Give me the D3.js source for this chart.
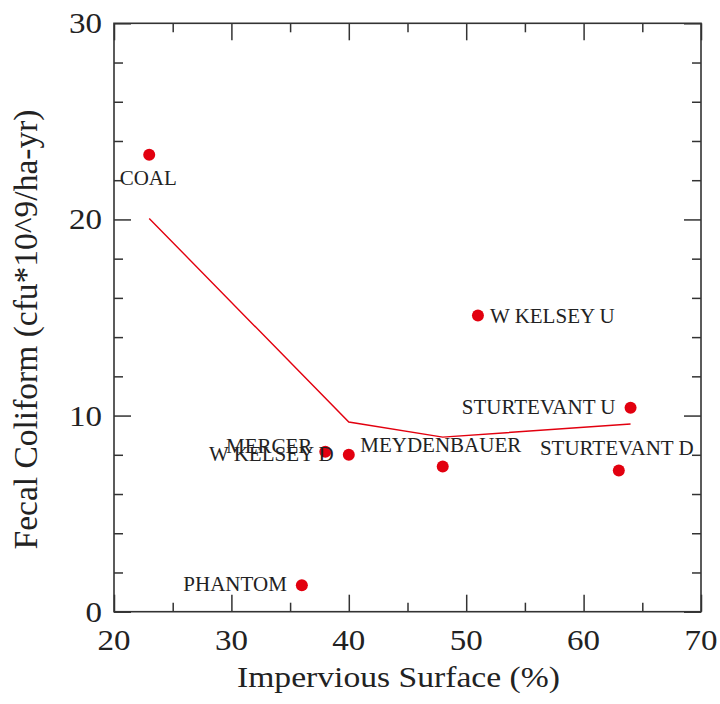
<!DOCTYPE html>
<html>
<head>
<meta charset="utf-8">
<script src="https://cdn.jsdelivr.net/npm/d3@7"></script>
<style>
  html, body { margin: 0; padding: 0; background: #fff; }
  svg { display: block; }
</style>
</head>
<body>
<svg id="chart" width="720" height="704"></svg>
<script>
// ---- data ----
const sites = ["COAL", "W KELSEY U", "STURTEVANT U", "STURTEVANT D", "MEYDENBAUER", "W KELSEY D", "MERCER", "PHANTOM"];
const impervious = [23, 51, 64, 63, 48, 40, 38, 36];
const fecalColiform = [23.3, 15.1, 10.4, 7.2, 7.4, 8.0, 8.15, 1.35];
const labelSide = ["below", "right", "left", "above", "above", "left", "leftHigh", "left"];

const trendX = [23, 40, 48, 64];
const trendY = [20.05, 9.67, 8.9, 9.57];

const xTicks = [20, 30, 40, 50, 60, 70];
const yTicks = [0, 10, 20, 30];

(function () {
// ---- layout ----
const svg = d3.select("#chart");
const pLeft = 114, pRight = 701, pTop = 23.3, pBottom = 611.7;
const x = d3.scaleLinear().domain([20, 70]).range([pLeft, pRight]);
const y = d3.scaleLinear().domain([0, 30]).range([pBottom, pTop]);

const font = "'Liberation Serif', 'Times New Roman', serif";
const red = "#e2000f";
const ink = "#222";
const frame = "#333";

// trend line
svg.append("path")
  .datum(trendX.map((d, i) => [d, trendY[i]]))
  .attr("fill", "none")
  .attr("stroke", red)
  .attr("stroke-width", 1.4)
  .attr("d", d3.line().x(d => x(d[0])).y(d => y(d[1])));

// axes (ticks inward)
const major = 17, minor = 9;
const xMinor = d3.range(25, 70, 10);
const yMinor = d3.range(0, 31, 2).filter(v => v % 10 !== 0);

function tickAxis(axisFn, scale, values, size, transform) {
  svg.append("g")
    .attr("transform", transform)
    .call(axisFn(scale).tickValues(values).tickSize(size).tickFormat(""))
    .call(g => g.select(".domain").remove())
    .call(g => g.selectAll("line").attr("stroke", frame).attr("stroke-width", 1.5));
}
tickAxis(d3.axisTop, x, xTicks, major, `translate(0,${pBottom})`);
tickAxis(d3.axisTop, x, xMinor, minor, `translate(0,${pBottom})`);
tickAxis(d3.axisBottom, x, xTicks, major, `translate(0,${pTop})`);
tickAxis(d3.axisBottom, x, xMinor, minor, `translate(0,${pTop})`);
tickAxis(d3.axisRight, y, yTicks, major, `translate(${pLeft},0)`);
tickAxis(d3.axisRight, y, yMinor, minor, `translate(${pLeft},0)`);
tickAxis(d3.axisLeft, y, yTicks, major, `translate(${pRight},0)`);
tickAxis(d3.axisLeft, y, yMinor, minor, `translate(${pRight},0)`);

// frame
svg.append("rect")
  .attr("x", pLeft).attr("y", pTop)
  .attr("width", pRight - pLeft).attr("height", pBottom - pTop)
  .attr("fill", "none").attr("stroke", frame).attr("stroke-width", 1.6);

// tick labels (slightly wide serif, as in the reference)
const tickFs = 30, tickSx = 1.1;
svg.append("g").selectAll("text").data(xTicks).join("text")
  .attr("transform", d => `translate(${x(d)},${pBottom + 38}) scale(${tickSx},1)`)
  .attr("text-anchor", "middle")
  .attr("font-family", font).attr("font-size", tickFs).attr("fill", ink)
  .text(d => d);
svg.append("g").selectAll("text").data(yTicks).join("text")
  .attr("transform", d => `translate(${pLeft - 12},${y(d) + 10}) scale(${tickSx},1)`)
  .attr("text-anchor", "end")
  .attr("font-family", font).attr("font-size", tickFs).attr("fill", ink)
  .text(d => d);

// axis titles
svg.append("text")
  .attr("transform", `translate(${(pLeft + pRight) / 2 - 9},687) scale(1.14,1)`)
  .attr("text-anchor", "middle")
  .attr("font-family", font).attr("font-size", 29.5).attr("fill", ink)
  .text("Impervious Surface (%)");
svg.append("text")
  .attr("transform", `translate(37,${(pTop + pBottom) / 2 + 12}) rotate(-90)`)
  .attr("text-anchor", "middle")
  .attr("font-family", font).attr("font-size", 33.5).attr("fill", ink)
  .text("Fecal Coliform (cfu*10^9/ha-yr)");

// points
const pts = sites.map((s, i) => ({ s, xv: impervious[i], yv: fecalColiform[i], side: labelSide[i] }));
svg.append("g").selectAll("circle").data(pts).join("circle")
  .attr("cx", d => x(d.xv)).attr("cy", d => y(d.yv))
  .attr("r", 6).attr("fill", red);

// labels
const place = {
  below: { dx: -1, dy: 30, anchor: "middle" },
  above: { dx: -2, dy: -15, anchor: "middle" },
  left: { dx: -15, dy: 6, anchor: "end" },
  leftHigh: { dx: -13, dy: 1, anchor: "end" },
  right: { dx: 12, dy: 7, anchor: "start" }
};
svg.append("g").selectAll("text").data(pts).join("text")
  .attr("x", d => x(d.xv) + place[d.side].dx)
  .attr("y", d => y(d.yv) + place[d.side].dy)
  .attr("text-anchor", d => place[d.side].anchor)
  .attr("font-family", font).attr("font-size", 21).attr("fill", ink)
  .text(d => d.s);
})();
</script>
</body>
</html>
